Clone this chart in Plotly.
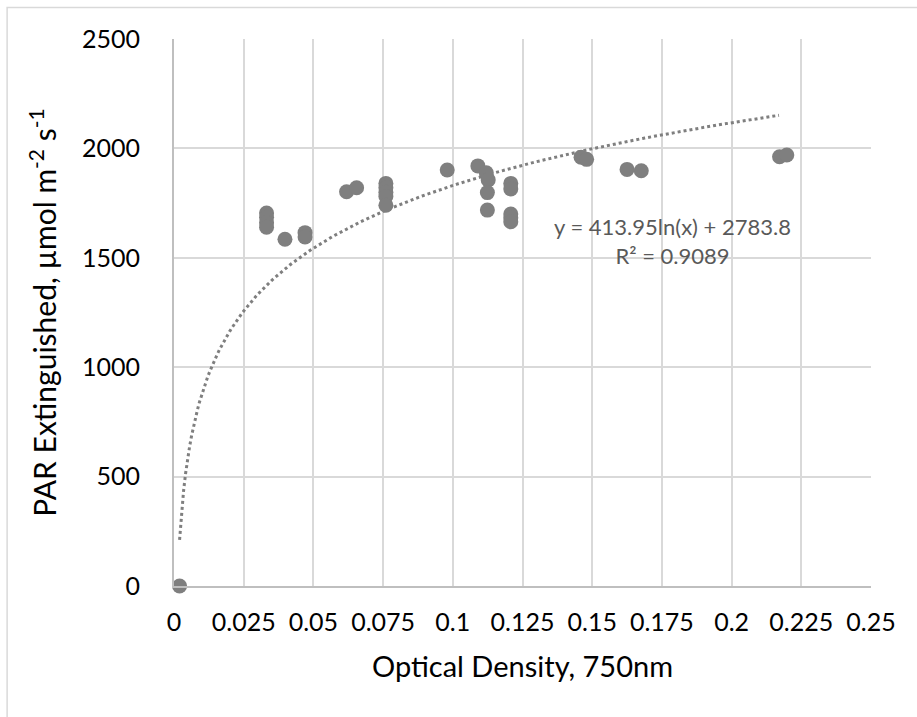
import numpy as np
import plotly.graph_objects as go

# Data
od_750 = [0.002,
          0.0332, 0.0332, 0.0332, 0.0332,
          0.0398,
          0.047, 0.047,
          0.0619, 0.0655,
          0.076, 0.076, 0.076, 0.076, 0.076,
          0.098,
          0.109, 0.112, 0.1127, 0.1124, 0.1124,
          0.1208, 0.1208, 0.1208, 0.1208, 0.1208,
          0.146, 0.148,
          0.1625, 0.1676,
          0.2172, 0.2198]
par_ext = [0,
           1705, 1685, 1660, 1640,
           1585,
           1615, 1595,
           1802, 1820,
           1840, 1820, 1800, 1780, 1740,
           1901,
           1920, 1889, 1856, 1798, 1718,
           1840, 1815, 1700, 1683, 1665,
           1960, 1950,
           1904, 1898,
           1962, 1970]

# Logarithmic trendline shown on the chart
trend_a = 413.95
trend_b = 2783.8
trend_x_range = [0.002, 0.217]
eq_text = "y = 413.95ln(x) + 2783.8<br>R² = 0.9089"

x_ticks = [0, 0.025, 0.05, 0.075, 0.1, 0.125, 0.15, 0.175, 0.2, 0.225, 0.25]
x_tick_labels = ["0", "0.025", "0.05", "0.075", "0.1", "0.125", "0.15", "0.175", "0.2", "0.225", "0.25"]
y_ticks = [0, 500, 1000, 1500, 2000, 2500]

FONT = "Lato"
GRAY = "#7f7f7f"

tx = np.linspace(trend_x_range[0], trend_x_range[1], 300)
ty = trend_a * np.log(tx) + trend_b

fig = go.Figure()
fig.add_trace(go.Scatter(x=tx, y=ty, mode="lines",
                         line=dict(color=GRAY, width=3, dash="dot"),
                         hoverinfo="skip", showlegend=False))
fig.add_trace(go.Scatter(x=od_750, y=par_ext, mode="markers",
                         marker=dict(color=GRAY, size=15, line=dict(width=0)),
                         cliponaxis=False, showlegend=False))

W, H = 917, 717
L, R, T, B = 174, 45.5, 38.5, 131
pw, ph = W - L - R, H - T - B

fig.add_annotation(x=0.1787, y=1577, xref="x", yref="y", text=eq_text,
                   showarrow=False, align="center",
                   font=dict(family=FONT, size=22, color="#595959"))

# outer chart border
fig.add_shape(type="rect", xref="paper", yref="paper",
              x0=(7 - L) / pw, x1=(W + 5 - L) / pw,
              y0=-(H + 5 - (H - B)) / ph, y1=((H - B) - 7) / ph,
              line=dict(color="#d9d9d9", width=1.5), layer="below")

fig.update_layout(
    width=W, height=H,
    margin=dict(l=L, r=R, t=T, b=B, pad=0),
    paper_bgcolor="white", plot_bgcolor="white",
    font=dict(family=FONT, color="#000000"),
    xaxis=dict(range=[0, 0.25], tickvals=x_ticks, ticktext=x_tick_labels,
               showgrid=True, gridcolor="#d9d9d9", gridwidth=1.5,
               showline=True, linecolor="#bfbfbf", linewidth=2,
               zeroline=False, ticks="outside", ticklen=13,
               tickcolor="rgba(0,0,0,0)",
               tickfont=dict(family=FONT, size=25, color="#000000"),
               title=dict(text="Optical Density, 750nm", standoff=22,
                          font=dict(family=FONT, size=29, color="#000000"))),
    yaxis=dict(range=[0, 2500], tickvals=y_ticks,
               showgrid=True, gridcolor="#d9d9d9", gridwidth=1.5,
               showline=True, linecolor="#bfbfbf", linewidth=2,
               zeroline=False, ticks="outside", ticklen=27,
               tickcolor="rgba(0,0,0,0)",
               tickfont=dict(family=FONT, size=25, color="#000000"),
               title=dict(text="PAR Extinguished, µmol m<sup>-2</sup> s<sup>-1</sup>",
                          standoff=16,
                          font=dict(family=FONT, size=30, color="#000000"))),
)

fig.write_html("out.html")
